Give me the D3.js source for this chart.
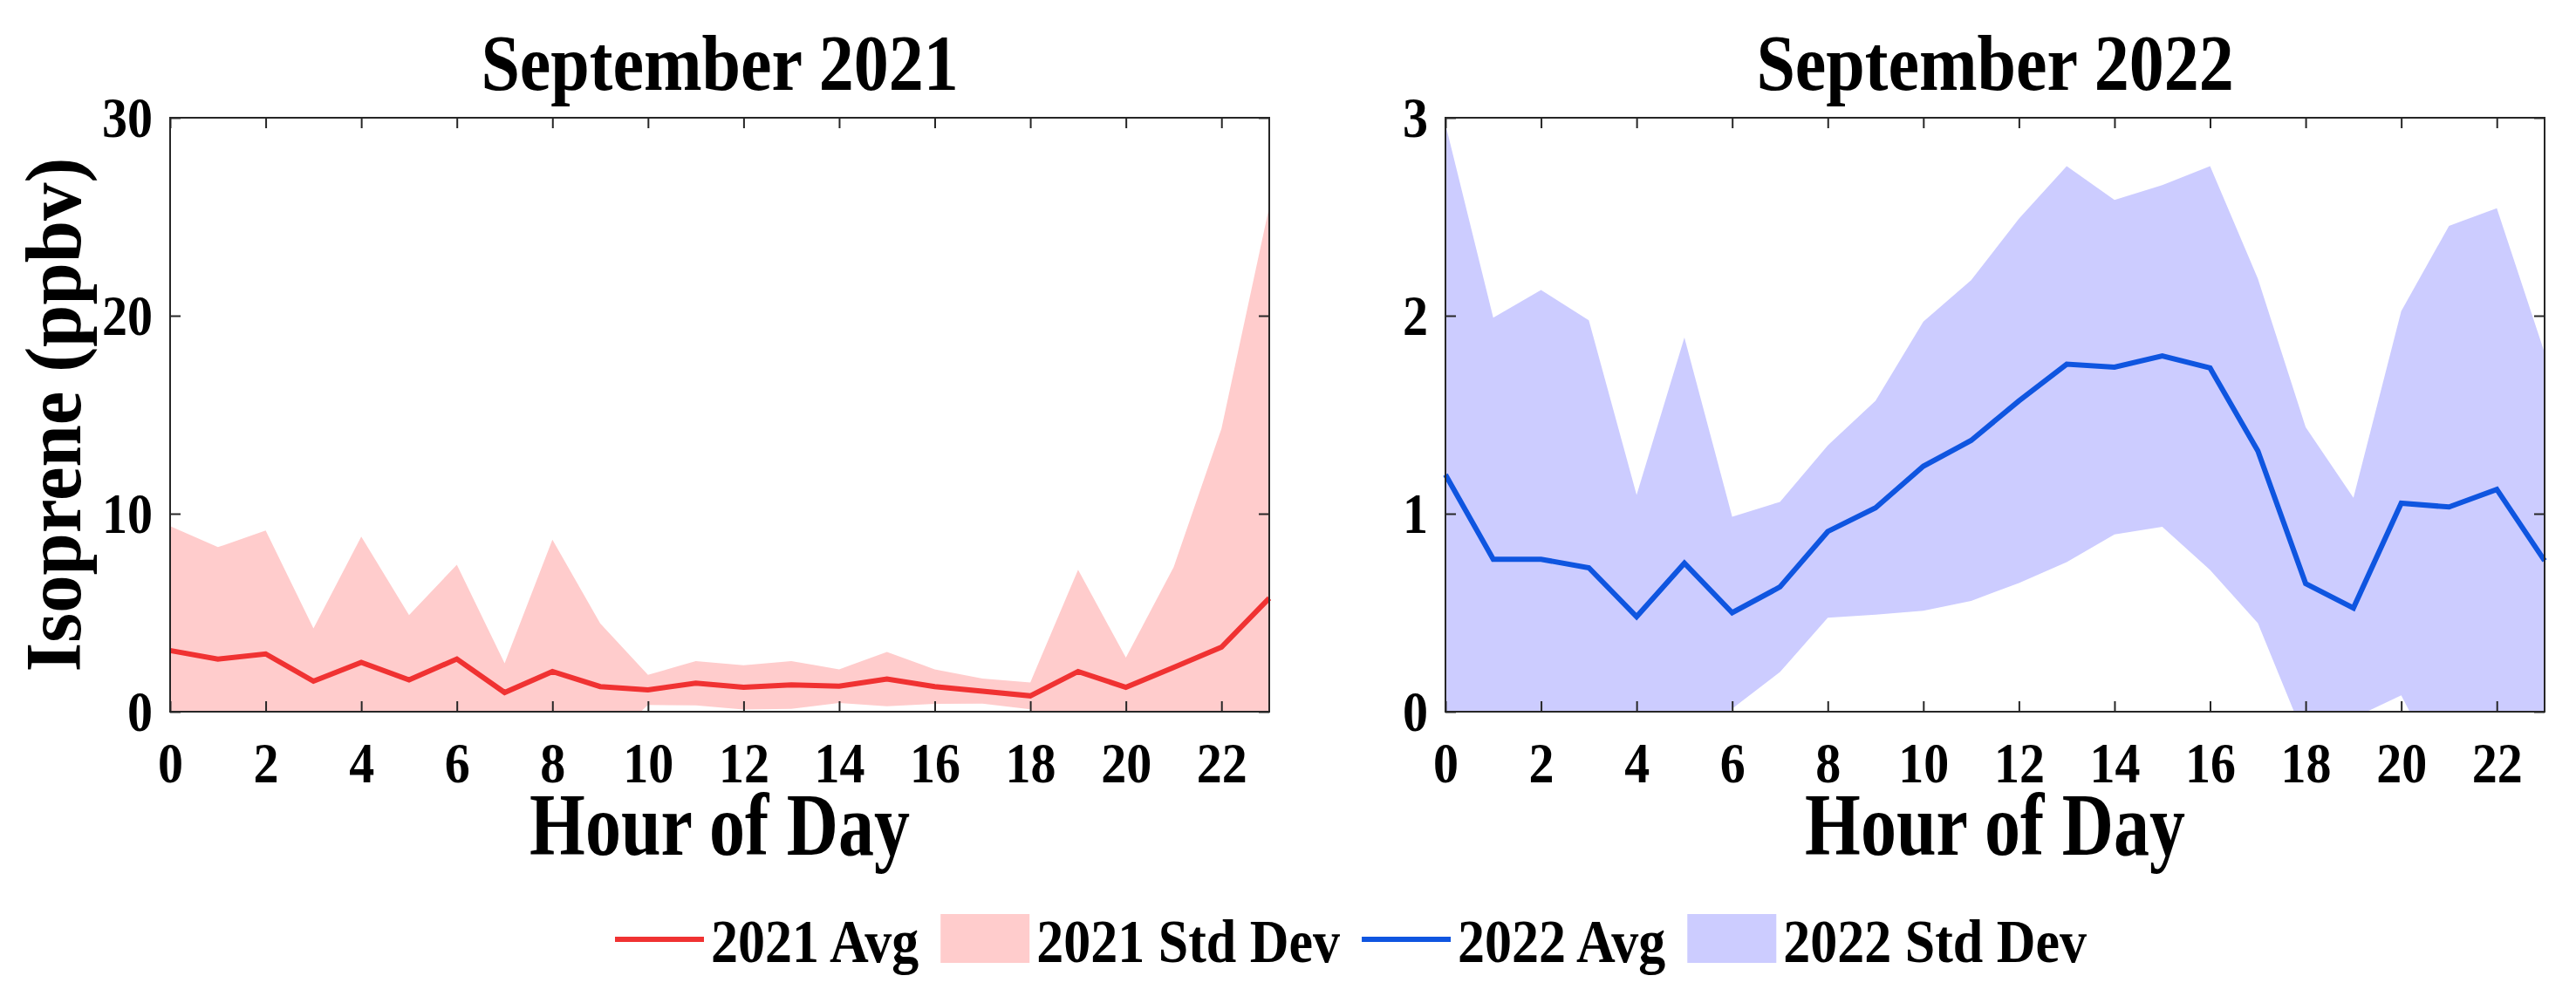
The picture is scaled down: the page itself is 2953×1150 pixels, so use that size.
<!DOCTYPE html>
<html>
<head>
<meta charset="utf-8">
<script src="https://cdn.jsdelivr.net/npm/d3@7"></script>
<style>
  body { margin: 0; background: #fff; }
  text { font-family: "Liberation Serif", "Times New Roman", serif; font-weight: bold; fill: #000; }
</style>
</head>
<body>
<svg width="2953" height="1150"></svg>
<script>
// hour of day (x categories)
const hours = [0, 1, 2, 3, 4, 5, 6, 7, 8, 9, 10, 11, 12, 13, 14, 15, 16, 17, 18, 19, 20, 21, 22, 23];

// September 2021 hourly mean and std dev of isoprene (ppbv)
const avg2021 = [3.09, 2.66, 2.92, 1.54, 2.49, 1.61, 2.66, 0.97, 2.03, 1.27, 1.10, 1.44,
                 1.23, 1.35, 1.29, 1.65, 1.27, 1.04, 0.80, 2.03, 1.23, 2.24, 3.26, 5.73];
const std2021 = [6.28, 5.65, 6.23, 2.67, 6.35, 3.27, 4.76, 1.48, 6.66, 3.19, 0.76, 1.12,
                 1.12, 1.21, 0.85, 1.37, 0.87, 0.63, 0.68, 5.14, 1.50, 5.06, 11.04, 19.77];

// September 2022
const avg2022 = [1.197, 0.77, 0.77, 0.727, 0.48, 0.75, 0.50, 0.63, 0.91, 1.03, 1.24, 1.37,
                 1.57, 1.755, 1.74, 1.797, 1.736, 1.317, 0.647, 0.524, 1.053, 1.034, 1.123, 0.763];
const std2022 = [1.77, 1.22, 1.36, 1.25, 0.615, 1.14, 0.485, 0.43, 0.435, 0.54, 0.73, 0.81,
                 0.92, 1.00, 0.845, 0.863, 1.02, 0.87, 0.79, 0.556, 0.97, 1.42, 1.42, 1.05];

// tick labels
const xTicks = [0, 2, 4, 6, 8, 10, 12, 14, 16, 18, 20, 22];
const yTicks2021 = [0, 10, 20, 30];
const yTicks2022 = [0, 1, 2, 3];

const titles = ["September 2021", "September 2022"];
const legendLabels = ["2021 Avg", "2021 Std Dev", "2022 Avg", "2022 Std Dev"];

const svg = d3.select('svg');
const plotTop = 135;
const plotBottom = 816;
const tickLen = 12;
const frameColor = '#262626';
const stretch = 1.14;   // the figure text is a bit taller than plain Times

// put a text at (x,y) and stretch it vertically around its baseline
function tallText(sel, x, y, s) {
  return sel.attr('transform', `translate(${x},${y}) scale(1,${s || stretch})`);
}

const panels = [
  { left: 195, right: 1455, title: titles[0], avg: avg2021, std: std2021, yMax: 30,
    yTicks: yTicks2021, lineColor: '#f03232', fillColor: '#ffcccc', yLabel: true },
  { left: 1657, right: 2917, title: titles[1], avg: avg2022, std: std2022, yMax: 3,
    yTicks: yTicks2022, lineColor: '#0f55e0', fillColor: '#ccccff', yLabel: false }
];

panels.forEach(function(p, i) {
  const x = d3.scaleLinear().domain([0, 23]).range([p.left, p.right]);
  const y = d3.scaleLinear().domain([0, p.yMax]).range([plotBottom, plotTop]);

  const g = svg.append('g');

  // clip the std band to the axes box
  svg.append('clipPath').attr('id', 'clip' + i)
    .append('rect')
    .attr('x', p.left).attr('y', plotTop)
    .attr('width', p.right - p.left).attr('height', plotBottom - plotTop);

  // std dev band (mean +/- std)
  const band = d3.area()
    .x((d, j) => x(hours[j]))
    .y0((d, j) => y(p.avg[j] - p.std[j]))
    .y1((d, j) => y(p.avg[j] + p.std[j]));

  g.append('path')
    .datum(p.avg)
    .attr('clip-path', 'url(#clip' + i + ')')
    .attr('d', band)
    .attr('fill', p.fillColor);

  // mean line
  const line = d3.line()
    .x((d, j) => x(hours[j]))
    .y(d => y(d));

  g.append('path')
    .datum(p.avg)
    .attr('d', line)
    .attr('fill', 'none')
    .attr('stroke', p.lineColor)
    .attr('stroke-width', 6)
    .attr('stroke-linejoin', 'miter');

  // axes with inward ticks on all four sides
  const bottomAxis = g.append('g')
    .attr('transform', `translate(0,${plotBottom})`)
    .call(d3.axisBottom(x).tickValues(xTicks).tickSize(-tickLen).tickPadding(30).tickFormat(d3.format('d')));
  const topAxis = g.append('g')
    .attr('transform', `translate(0,${plotTop})`)
    .call(d3.axisTop(x).tickValues(xTicks).tickSize(-tickLen).tickFormat(''));
  const leftAxis = g.append('g')
    .attr('transform', `translate(${p.left},0)`)
    .call(d3.axisLeft(y).tickValues(p.yTicks).tickSize(-tickLen).tickPadding(20).tickFormat(d3.format('d')));
  const rightAxis = g.append('g')
    .attr('transform', `translate(${p.right},0)`)
    .call(d3.axisRight(y).tickValues(p.yTicks).tickSize(-tickLen).tickFormat(''));

  [bottomAxis, topAxis, leftAxis, rightAxis].forEach(function(a) {
    a.select('.domain').remove();
    a.selectAll('line').attr('stroke', frameColor).attr('stroke-width', 2);
    a.selectAll('text')
      .attr('font-family', '"Liberation Serif", "Times New Roman", serif')
      .attr('font-weight', 'bold')
      .attr('font-size', 58)
      .attr('fill', '#000')
      .attr('transform', `scale(1,${stretch})`);
  });

  // box
  g.append('rect')
    .attr('x', p.left).attr('y', plotTop)
    .attr('width', p.right - p.left).attr('height', plotBottom - plotTop)
    .attr('fill', 'none')
    .attr('stroke', frameColor)
    .attr('stroke-width', 2);

  // title
  tallText(g.append('text'), (p.left + p.right) / 2, 103)
    .attr('text-anchor', 'middle')
    .attr('font-size', 80)
    .text(p.title);

  // x label
  tallText(g.append('text'), (p.left + p.right) / 2, 980, 1.24)
    .attr('text-anchor', 'middle')
    .attr('font-size', 82)
    .text('Hour of Day');

  if (p.yLabel) {
    g.append('text')
      .attr('transform', `translate(92,${(plotTop + plotBottom) / 2}) rotate(-90) scale(1.06,1.12)`)
      .attr('text-anchor', 'middle')
      .attr('font-size', 82)
      .text('Isoprene (ppbv)');
  }
});

// * legend along the bottom
const legend = svg.append('g');
const legendItems = [
  { label: legendLabels[0], type: 'line', color: '#f03232' },
  { label: legendLabels[1], type: 'box', color: '#ffcccc' },
  { label: legendLabels[2], type: 'line', color: '#0f55e0' },
  { label: legendLabels[3], type: 'box', color: '#ccccff' }
];

var lx = 705;
const symW = 102;
const legendBase = 1103;
legendItems.forEach(function(item) {
  if (item.type === 'line') {
    legend.append('line')
      .attr('x1', lx).attr('x2', lx + symW)
      .attr('y1', 1077).attr('y2', 1077)
      .attr('stroke', item.color)
      .attr('stroke-width', 6);
  } else {
    legend.append('rect')
      .attr('x', lx).attr('y', 1048)
      .attr('width', symW).attr('height', 56)
      .attr('fill', item.color);
  }
  const t = tallText(legend.append('text'), lx + symW + 8, legendBase)
    .attr('font-size', 62)
    .text(item.label);
  lx = lx + symW + 8 + t.node().getComputedTextLength() + 25;
});
</script>
</body>
</html>
